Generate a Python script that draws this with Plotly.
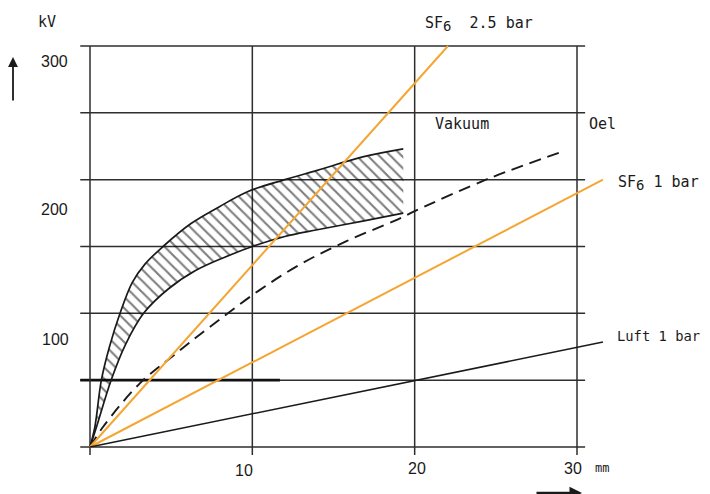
import plotly.graph_objects as go

# ---------------- data ----------------
# Vakuum: hatched scatter band (upper and lower bound)
vac_upper_mm = [0, 0.3, 0.7, 1.2, 1.85, 2.6, 3.4, 4.5, 6.2, 8.0, 9.7, 12.0, 14.0, 16.8, 19.3]
vac_upper_kv = [0, 15, 50, 75, 100, 123, 137, 150, 167, 180, 191, 200, 207, 217, 223]
vac_lower_mm = [0, 0.4, 1.3, 2.2, 3.3, 4.8, 6.5, 8.3, 10.0, 12.0, 14.0, 16.8, 19.3]
vac_lower_kv = [0, 15, 50, 77, 100, 118, 132, 142, 150, 157.5, 162.5, 169, 175]

# Oel (dashed)
oel_mm = [0, 0.8, 3.1, 5.2, 7.4, 10.4, 13.0, 15.8, 18.9, 20.1, 24.6, 29.1]
oel_kv = [0, 15, 48, 69, 90, 117, 137, 154, 170, 177, 201, 221]

# straight lines
sf6_25_mm = [0, 22.05]
sf6_25_kv = [0, 300]
sf6_1_mm = [0, 31.6]
sf6_1_kv = [0, 200]
luft_mm = [0, 31.6]
luft_kv = [0, 78.5]

# grid and tick labels
x_grid = [0, 10, 20, 30]
y_grid = [0, 50, 100, 150, 200, 250, 300]
x_tick_labels = ["10", "20", "30"]
y_tick_labels = ["300", "200", "100"]

# ---------------- layout geometry ----------------
OFF = 8                      # page body margin of the browser
W, H = 710 - OFF, 494 - OFF
L, R, T, B = 66, 100, 35, 36
PW, PH = W - L - R, H - T - B
# reference pixel positions of the grid frame
X0PX, X30PX, Y0PX, Y300PX = 90, 577, 447, 46
sx = (X30PX - X0PX) / 30.0
sy = (Y0PX - Y300PX) / 300.0
xmin = -(X0PX - OFF - L) / sx
xmax = xmin + PW / sx
ymax = 300 + (Y300PX - OFF - T) / sy
ymin = ymax - PH / sy


def paper(px, py):
    return (px - OFF - L) / PW, 1 - (py - OFF - T) / PH


ORANGE = "#F4A532"
INK = "#1a1a1a"
GRID = "#2e2e2e"
MONO = "DejaVu Sans Mono"
SANS = "Liberation Sans"

fig = go.Figure()

# hatched band
fig.add_trace(go.Scatter(x=vac_lower_mm, y=vac_lower_kv, mode="lines",
                         line=dict(color=INK, width=1.7, shape="spline", smoothing=1.0),
                         hoverinfo="skip", showlegend=False))
fig.add_trace(go.Scatter(x=vac_upper_mm, y=vac_upper_kv, mode="lines",
                         line=dict(color=INK, width=1.7, shape="spline", smoothing=1.0),
                         fill="tonexty", fillcolor="rgba(0,0,0,0)",
                         fillpattern=dict(shape="\\", size=8, solidity=0.27,
                                          fgcolor="#000000", bgcolor="rgba(0,0,0,0)"),
                         hoverinfo="skip", showlegend=False))

# Oel dashed
fig.add_trace(go.Scatter(x=oel_mm, y=oel_kv, mode="lines",
                         line=dict(color=INK, width=1.9, dash="12px,7px",
                                   shape="spline", smoothing=1.0),
                         showlegend=False))
# SF6 lines
fig.add_trace(go.Scatter(x=sf6_25_mm, y=sf6_25_kv, mode="lines",
                         line=dict(color=ORANGE, width=2), showlegend=False))
fig.add_trace(go.Scatter(x=sf6_1_mm, y=sf6_1_kv, mode="lines",
                         line=dict(color=ORANGE, width=2), showlegend=False))
# Luft
fig.add_trace(go.Scatter(x=luft_mm, y=luft_kv, mode="lines",
                         line=dict(color=INK, width=1.6), showlegend=False))

# grid as shapes
shapes = []
for v in y_grid:
    shapes.append(dict(type="line", xref="x", yref="y", x0=-0.6, x1=30.5, y0=v, y1=v,
                       line=dict(color=GRID, width=1.5), layer="below"))
shapes.append(dict(type="line", xref="x", yref="y", x0=-0.6, x1=11.7, y0=50, y1=50,
                   line=dict(color="#111", width=2.6), layer="below"))
for v in x_grid:
    shapes.append(dict(type="line", xref="x", yref="y", x0=v, x1=v, y0=-6, y1=300,
                       line=dict(color=GRID, width=1.5), layer="below"))

ann = []


def text_at(px, py, txt, font, size, xanchor="left", yanchor="middle"):
    x, y = paper(px, py)
    ann.append(dict(xref="paper", yref="paper", x=x, y=y, text=txt, showarrow=False,
                    xanchor=xanchor, yanchor=yanchor,
                    font=dict(family=font, size=size, color=INK)))


SUB6 = '<sub><span style="font-size:14px">6</span></sub>'

# tick labels
for lbl, (px, py) in zip(y_tick_labels, [(54, 61), (54, 209), (55, 339)]):
    text_at(px, py, lbl, SANS, 16, xanchor="center")
for lbl, (px, py) in zip(x_tick_labels, [(244, 470), (417, 469), (573, 469)]):
    text_at(px, py, lbl, SANS, 16, xanchor="center")
text_at(602, 468, "mm", MONO, 12, xanchor="center")
text_at(47, 22, "kV", MONO, 15, xanchor="center")

# curve labels
text_at(423, 24, "SF" + SUB6 + "  2.5 bar", MONO, 15)
text_at(433, 124, "Vakuum", MONO, 15)
text_at(587, 124, "Oel", MONO, 15)
text_at(616, 183, "SF" + SUB6 + " 1 bar", MONO, 15)
text_at(615, 336, "Luft 1 bar", MONO, 13.8)

# axis arrows
hx, hy = paper(13, 57)
ann.append(dict(xref="paper", yref="paper", x=hx, y=hy, ax=0, ay=45, text="",
                showarrow=True, arrowhead=2, arrowsize=1.1, arrowwidth=1.8,
                arrowcolor=INK, standoff=0, startstandoff=0))
hx, hy = paper(582, 493)
ann.append(dict(xref="paper", yref="paper", x=hx, y=hy, ax=-47, ay=0, text="",
                showarrow=True, arrowhead=2, arrowsize=1.0, arrowwidth=2.5,
                arrowcolor=INK, standoff=0, startstandoff=0))

fig.update_layout(
    width=W, height=H,
    margin=dict(l=L, r=R, t=T, b=B, pad=0),
    paper_bgcolor="white", plot_bgcolor="white",
    shapes=shapes, annotations=ann,
    xaxis=dict(range=[xmin, xmax], showgrid=False, zeroline=False, showline=False,
               showticklabels=False, ticks=""),
    yaxis=dict(range=[ymin, ymax], showgrid=False, zeroline=False, showline=False,
               showticklabels=False, ticks=""),
    showlegend=False,
)

fig.write_html("out.html")
